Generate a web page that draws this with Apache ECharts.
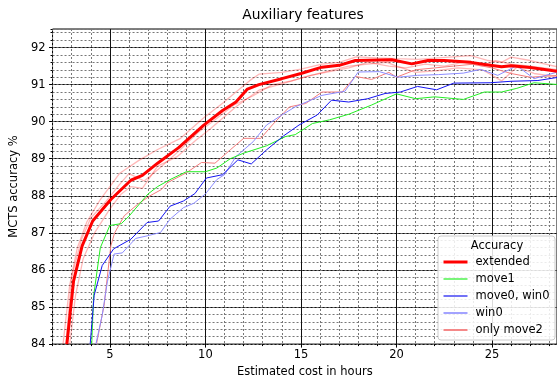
<!DOCTYPE html>
<html>
<head>
<meta charset="utf-8">
<script src="https://cdn.jsdelivr.net/npm/echarts@6/dist/echarts.min.js"></script>
<style>
  html, body { margin: 0; padding: 0; background: #fff; }
  #chart { width: 557px; height: 383px; }
</style>
</head>
<body>
<div id="chart"></div>
<script>
// [hours, accuracy %]
const extended = [[2.75,84.0],[3.1,85.7],[3.55,86.65],[4.1,87.32],[5.05,87.9],[6.1,88.42],[6.7,88.55],[7.5,88.88],[8.6,89.3],[9.9,89.9],[10.9,90.3],[11.6,90.53],[12.2,90.88],[12.8,91.0],[14.0,91.16],[15.0,91.3],[16.1,91.47],[17.0,91.52],[17.85,91.65],[19.75,91.67],[20.8,91.56],[21.65,91.65],[22.5,91.65],[23.9,91.6],[24.8,91.53],[25.5,91.48],[26.0,91.51],[27.0,91.46],[28.5,91.35]];
const move1 = [[4.05,84.0],[4.15,85.3],[4.5,86.6],[5.0,87.2],[5.6,87.25],[6.0,87.45],[7.0,88.05],[7.5,88.25],[8.2,88.45],[9.0,88.65],[10.0,88.65],[10.6,88.75],[11.3,89.0],[12.0,89.15],[13.2,89.35],[14.2,89.6],[14.7,89.65],[15.6,89.95],[16.5,90.05],[17.5,90.2],[18.7,90.45],[20.0,90.75],[21.0,90.62],[22.0,90.67],[23.5,90.6],[24.6,90.8],[25.5,90.8],[26.3,90.9],[27.2,91.05],[28.5,91.0]];
const move0Win0 = [[3.97,84.0],[4.18,85.32],[4.6,86.12],[5.2,86.57],[6.1,86.83],[6.95,87.28],[7.55,87.32],[8.15,87.72],[8.85,87.86],[9.45,88.06],[10.05,88.48],[10.9,88.57],[11.7,88.97],[12.4,88.86],[13.2,89.24],[14.1,89.62],[14.9,89.91],[15.85,90.18],[16.6,90.58],[17.5,90.53],[18.5,90.62],[19.4,90.76],[20.2,90.8],[21.1,90.95],[22.1,90.86],[23.0,91.04],[24.9,91.05],[26.0,91.09],[27.4,91.11],[28.5,91.2]];
const win0 = [[4.27,84.0],[4.6,84.78],[4.87,85.68],[5.22,86.43],[5.65,86.46],[6.35,86.85],[6.95,86.92],[7.65,87.01],[8.15,87.37],[8.85,87.68],[9.4,87.8],[10.0,88.05],[10.6,88.44],[11.0,88.57],[11.6,89.06],[12.5,89.46],[13.2,89.91],[14.0,90.18],[14.7,90.4],[16.1,90.71],[17.3,90.82],[18.0,91.34],[19.1,91.35],[20.1,91.2],[21.1,91.25],[22.2,91.27],[23.5,91.31],[24.4,91.41],[25.3,91.25],[26.3,91.51],[27.2,91.16],[28.5,91.35]];
const onlyMove2 = [[4.3,84.0],[4.7,85.05],[5.05,86.65],[5.25,87.0],[5.75,87.46],[6.45,87.77],[7.1,88.0],[7.7,88.17],[8.0,88.35],[9.0,88.62],[9.8,88.9],[10.5,88.88],[11.3,89.24],[12.0,89.55],[12.9,89.55],[13.5,89.91],[14.4,90.4],[15.25,90.49],[16.1,90.8],[17.15,90.8],[17.85,91.22],[18.7,91.14],[19.6,91.33],[20.0,91.2],[21.0,91.4],[22.0,91.45],[23.0,91.5],[24.0,91.55],[25.0,91.45],[26.0,91.3],[27.0,91.2],[28.5,91.25]];
// faint single runs around "extended"
const runA = [[2.55,84.0],[2.9,85.6],[3.3,86.6],[3.8,87.3],[4.5,87.9],[5.5,88.6],[6.5,88.95],[7.5,89.25],[8.7,89.55],[9.9,90.1],[10.9,90.5],[11.6,90.8],[12.3,91.1],[12.8,91.28],[14.0,91.33],[15.0,91.42],[16.1,91.55],[17.0,91.6],[17.9,91.75],[19.0,91.72],[20.0,91.7],[21.1,91.68],[22.2,91.72],[23.9,91.78],[24.8,91.65],[25.5,91.6],[26.0,91.74],[27.0,91.65],[28.5,91.47]];
const runB = [[2.9,84.0],[3.2,85.3],[3.6,86.3],[4.2,87.0],[5.0,87.65],[5.6,88.05],[6.1,88.25],[6.7,88.2],[7.5,88.8],[8.5,89.05],[9.5,89.5],[10.2,89.78],[11.6,90.4],[12.8,90.85],[14.0,91.02],[15.2,91.2],[16.3,91.35],[17.5,91.5],[18.5,91.55],[19.5,91.6],[20.0,91.5],[21.0,91.33],[22.2,91.38],[23.2,91.45],[24.5,91.4],[25.5,91.1],[26.3,91.47],[27.2,91.3],[28.5,91.2]];
const runC = [[2.7,84.0],[3.0,85.8],[3.5,86.8],[4.0,87.4],[4.8,87.85],[5.5,88.3],[6.0,88.6],[6.8,88.4],[7.5,88.7],[8.6,89.2],[9.6,89.7],[10.5,90.05],[11.5,90.45],[12.5,90.7],[13.5,91.0],[14.5,91.1],[15.5,91.25],[16.5,91.35],[17.5,91.45],[18.5,91.6],[19.6,91.5],[20.5,91.45],[21.5,91.55],[22.5,91.5],[23.5,91.6],[24.5,91.5],[25.2,91.65],[26.0,91.55],[27.0,91.5],[28.5,91.4]];

const xMajor = [5, 10, 15, 20, 25];
const yMajor = [84, 85, 86, 87, 88, 89, 90, 91, 92];

const font = 'DejaVu Sans';

function line(name, data, color, width, z) {
  return {
    type: 'line', name: name, data: data, symbol: 'none',
    lineStyle: { color: color, width: width }, itemStyle: { color: color },
    z: z
  };
}

// legend entries: line only, no marker
function entry(name, width, opacity) {
  return { name: name, lineStyle: { width: width, opacity: opacity }, itemStyle: { opacity: 0, borderWidth: 0 } };
}

const chart = echarts.init(document.getElementById('chart'), null, { renderer: 'canvas' });
chart.setOption({
  animation: false,
  title: {
    text: 'Auxiliary features', left: 303, top: 8, padding: 0, textAlign: 'center',
    textStyle: { fontFamily: font, fontSize: 13.8, fontWeight: 'normal', color: '#000' }
  },
  grid: { left: 48, right: 0, top: 29, bottom: 37, show: true, borderColor: '#000', borderWidth: 1 },
  xAxis: [
    {
      type: 'value', min: 2, max: 28.4, interval: 1,
      axisLine: { show: false },
      axisTick: { show: true, length: 2, lineStyle: { color: '#000' } },
      axisLabel: { show: false },
      splitLine: { show: true, lineStyle: { color: '#777', type: [2, 2], width: 1 } }
    },
    {
      type: 'value', min: 2, max: 28.4, position: 'bottom',
      axisLine: { show: false },
      axisTick: { show: true, length: 3.5, customValues: xMajor, lineStyle: { color: '#000' } },
      axisLabel: { customValues: xMajor, margin: 5, fontFamily: font, fontSize: 11.5, color: '#000' },
      splitLine: { show: true, lineStyle: { color: '#111', width: 1 } },
      name: 'Estimated cost in hours', nameLocation: 'middle', nameGap: 21,
      nameTextStyle: { fontFamily: font, fontSize: 11.5, color: '#000' }
    }
  ],
  yAxis: [
    {
      type: 'value', min: 84, max: 92.5, interval: 1,
      axisLine: { show: false },
      axisTick: { show: true, length: 3.5, customValues: yMajor, lineStyle: { color: '#000' } },
      axisLabel: { customValues: yMajor, margin: 7, fontFamily: font, fontSize: 11.5, color: '#000' },
      splitLine: { show: true, lineStyle: { color: '#111', width: 1 } },
      name: 'MCTS accuracy %', nameLocation: 'middle', nameGap: 28,
      nameTextStyle: { fontFamily: font, fontSize: 11.5, color: '#000' }
    },
    {
      type: 'value', min: 84, max: 92.5, interval: 0.2, position: 'left',
      axisLine: { show: false },
      axisTick: { show: true, length: 2, lineStyle: { color: '#000' } },
      axisLabel: { show: false },
      splitLine: { show: true, lineStyle: { color: '#777', type: [2, 2], width: 1 } }
    }
  ],
  legend: {
    data: [
      entry('extended', 3, 1),
      entry('move1', 2, 0.6),
      entry('move0, win0', 2, 0.6),
      entry('win0', 2, 0.8),
      entry('only move2', 2, 0.9)
    ],
    orient: 'vertical', left: 442, top: 256, padding: 0,
    itemWidth: 24, itemHeight: 12, itemGap: 5, z: 10,
    textStyle: { fontFamily: font, fontSize: 11.5, color: '#000', padding: [0, 0, 0, 3] }
  },
  graphic: [
    {
      type: 'rect', z: 8,
      shape: { x: 438, y: 236, width: 117, height: 104, r: 3 },
      style: { fill: 'rgba(255,255,255,0.85)', stroke: '#ccc', lineWidth: 1 }
    },
    {
      type: 'text', z: 9, x: 497, y: 246,
      style: { text: 'Accuracy', font: '11.5px "DejaVu Sans"', fill: '#000', align: 'center', verticalAlign: 'middle' }
    }
  ],
  series: [
    line('run a', runA, 'rgba(255,0,0,0.28)', 1.3, 2),
    line('run b', runB, 'rgba(255,0,0,0.28)', 1.3, 2),
    line('run c', runC, 'rgba(255,0,0,0.28)', 1.3, 2),
    line('only move2', onlyMove2, '#f47c7c', 1, 3),
    line('win0', win0, '#8c8cff', 1, 3),
    line('move1', move1, '#22ee22', 1, 4),
    line('move0, win0', move0Win0, '#1414f0', 1, 4),
    line('extended', extended, '#ff0000', 3, 5)
  ]
});
</script>
</body>
</html>
